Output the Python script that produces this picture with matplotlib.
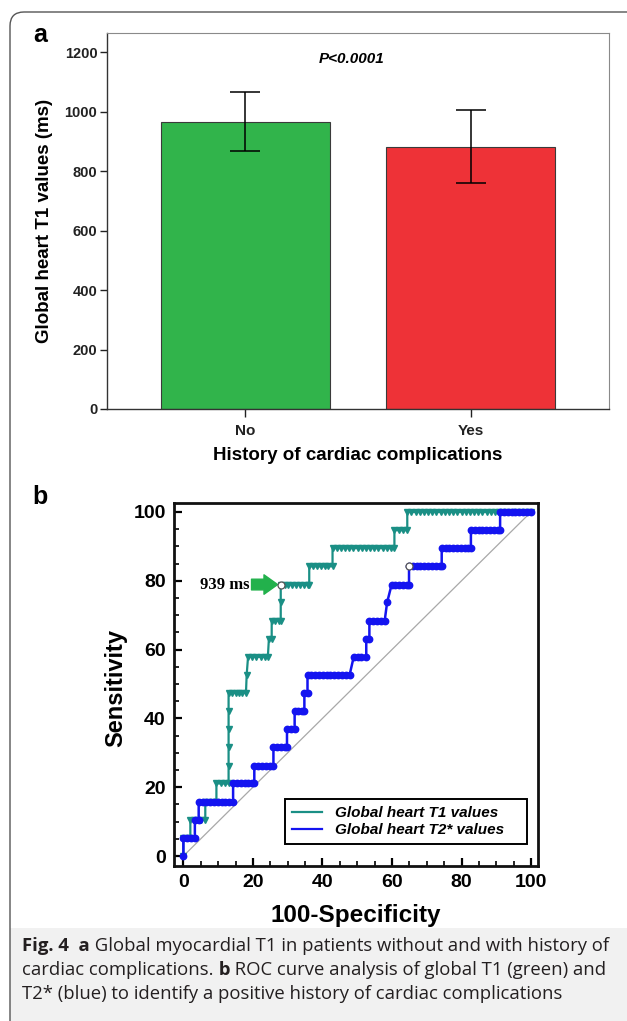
import numpy as np
import matplotlib
matplotlib.use("Agg")
import matplotlib.pyplot as plt
from matplotlib.patches import FancyBboxPatch, Rectangle
from matplotlib.transforms import IdentityTransform
from matplotlib.ticker import MultipleLocator
from matplotlib.lines import Line2D

plt.rcParams['font.family'] = ['Liberation Sans', 'DejaVu Sans']

################################################################################
# data
################################################################################

# panel a: global heart T1 (ms), mean with error bar
groups = ["No", "Yes"]
t1_means = [964, 881]
t1_err_low = [98, 122]
t1_err_high = [100, 123]
bar_colors = ["#31b44b", "#ee3237"]
p_text = "P<0.0001"

# panel b: ROC points (100-specificity, sensitivity)
t1_roc = [
    (0, 0),
    (0, 5.3), (1.0, 5.3), (2.0, 5.3),
    (2.0, 10.5), (3.1, 10.5), (4.2, 10.5), (5.2, 10.5), (6.3, 10.5),
    (6.3, 15.8), (7.4, 15.8), (8.5, 15.8), (9.5, 15.8),
    (9.5, 21.1), (10.7, 21.1), (11.9, 21.1), (13.0, 21.1),
    (13.0, 26.3), (13.0, 31.6), (13.0, 36.8), (13.0, 42.1),
    (13.0, 47.4), (14.0, 47.4), (15.0, 47.4), (16.0, 47.4), (17.0, 47.4), (18.0, 47.4),
    (18.2, 52.6),
    (18.6, 57.9), (19.8, 57.9), (21.0, 57.9), (22.2, 57.9), (23.4, 57.9), (24.3, 57.9),
    (24.6, 63.2), (25.4, 63.2),
    (25.4, 68.4), (26.4, 68.4), (27.4, 68.4), (28.0, 68.4),
    (28.0, 73.7),
    (28.0, 78.9), (29.1, 78.9), (30.2, 78.9), (31.3, 78.9), (32.4, 78.9), (33.5, 78.9),
    (34.6, 78.9), (35.7, 78.9), (36.2, 78.9),
    (36.2, 84.2), (37.3, 84.2), (38.4, 84.2), (39.5, 84.2), (40.6, 84.2), (41.7, 84.2),
    (42.9, 84.2),
    (42.9, 89.5), (44.1, 89.5), (45.3, 89.5), (46.5, 89.5), (47.7, 89.5), (48.9, 89.5),
    (50.1, 89.5), (51.3, 89.5), (52.5, 89.5), (53.7, 89.5), (54.9, 89.5), (56.1, 89.5),
    (57.3, 89.5), (58.5, 89.5), (59.7, 89.5), (60.7, 89.5),
    (60.7, 94.7), (61.9, 94.7), (63.1, 94.7), (64.4, 94.7),
    (64.4, 100), (65.6, 100), (66.8, 100), (68.0, 100), (69.2, 100), (70.4, 100),
    (71.6, 100), (72.8, 100), (74.0, 100), (75.2, 100), (76.4, 100), (77.6, 100),
    (78.8, 100), (80.0, 100), (81.2, 100), (82.4, 100), (83.6, 100), (84.8, 100),
    (86.0, 100), (87.2, 100), (88.4, 100), (89.6, 100), (90.8, 100), (92.0, 100),
    (93.2, 100), (94.4, 100), (95.6, 100), (96.8, 100), (98.0, 100), (99.2, 100),
    (100, 100),
]

t2_roc = [
    (0, 0),
    (0, 5.3), (1.1, 5.3), (2.2, 5.3), (3.3, 5.3),
    (3.3, 10.5), (4.4, 10.5),
    (4.4, 15.8), (5.5, 15.8), (6.6, 15.8), (7.7, 15.8), (8.8, 15.8), (9.9, 15.8),
    (11.0, 15.8), (12.1, 15.8), (13.2, 15.8), (14.3, 15.8),
    (14.3, 21.1), (15.4, 21.1), (16.5, 21.1), (17.6, 21.1), (18.7, 21.1), (19.8, 21.1),
    (20.4, 21.1),
    (20.4, 26.3), (21.5, 26.3), (22.6, 26.3), (23.7, 26.3), (24.8, 26.3), (25.9, 26.3),
    (25.9, 31.6), (27.0, 31.6), (28.1, 31.6), (29.2, 31.6), (29.8, 31.6),
    (29.8, 36.8), (30.9, 36.8), (32.0, 36.8),
    (32.0, 42.1), (33.1, 42.1), (34.2, 42.1), (34.8, 42.1),
    (34.8, 47.4), (35.7, 47.4),
    (35.7, 52.6), (36.8, 52.6), (37.9, 52.6), (39.0, 52.6), (40.1, 52.6), (41.2, 52.6),
    (42.3, 52.6), (43.4, 52.6), (44.5, 52.6), (45.6, 52.6), (46.7, 52.6), (47.8, 52.6),
    (49.0, 57.9), (50.1, 57.9), (51.2, 57.9), (52.6, 57.9),
    (52.6, 63.2), (53.5, 63.2),
    (53.5, 68.4), (54.6, 68.4), (55.7, 68.4), (56.8, 68.4), (57.9, 68.4),
    (58.6, 73.7),
    (59.9, 78.9), (61.0, 78.9), (62.1, 78.9), (63.2, 78.9), (64.3, 78.9), (64.9, 78.9),
    (64.9, 84.2), (66.0, 84.2), (67.1, 84.2), (68.2, 84.2), (69.3, 84.2), (70.4, 84.2),
    (71.5, 84.2), (72.6, 84.2), (73.7, 84.2), (74.3, 84.2),
    (74.3, 89.5), (75.4, 89.5), (76.5, 89.5), (77.6, 89.5), (78.7, 89.5), (79.8, 89.5),
    (80.9, 89.5), (82.0, 89.5), (82.7, 89.5),
    (82.7, 94.7), (83.8, 94.7), (84.9, 94.7), (86.0, 94.7), (87.1, 94.7), (88.2, 94.7),
    (89.3, 94.7), (90.4, 94.7), (91.1, 94.7),
    (91.1, 100), (92.2, 100), (93.3, 100), (94.4, 100), (95.5, 100), (96.6, 100),
    (97.7, 100), (98.8, 100), (100, 100),
]

t1_cutoff = (28.0, 78.9)
t2_cutoff = (64.9, 84.2)
cutoff_label = "939 ms"
roc_labels = ["Global heart T1 values", "Global heart T2* values"]
teal = "#1a8f85"
blue = "#1414f0"

################################################################################
# figure + frame
################################################################################

W, H = 627, 1021
fig = plt.figure(figsize=(W / 100, H / 100), dpi=100)


def fbox(l, t, r, b):
    # pixel box (from top-left) -> figure fraction
    return [l / W, 1 - b / H, (r - l) / W, (b - t) / H]


px = IdentityTransform()
fig.add_artist(Rectangle((10, -30), 700, H - 928 + 30, transform=px,
                         fc="#f1f1f1", ec="none", zorder=0))
fig.add_artist(FancyBboxPatch((10, -30), 700, H - 12 + 30, transform=px,
                              boxstyle="round,pad=0,rounding_size=14",
                              fill=False, ec="#555555", lw=1.0, zorder=1))

################################################################################
# panel a
################################################################################

axa = fig.add_axes(fbox(107, 33, 609, 409))
x = np.arange(len(groups))
axa.bar(x, t1_means, width=0.75, color=bar_colors, edgecolor="#3a3a3a",
        linewidth=0.8, zorder=2)
axa.errorbar(x, t1_means, yerr=[t1_err_low, t1_err_high], fmt="none",
             ecolor="black", elinewidth=1.1, capsize=11, capthick=1.1, zorder=3)
axa.set_xlim(-0.615, 1.615)
axa.set_ylim(0, 1264)
axa.set_yticks(np.arange(0, 1201, 200))
axa.set_xticks(x)
axa.set_xticklabels(groups)
for lab in axa.get_yticklabels():
    lab.set_fontweight("bold")
    lab.set_fontsize(10.5)
for lab in axa.get_xticklabels():
    lab.set_fontweight("bold")
    lab.set_fontsize(11)
axa.tick_params(direction="out", length=5, width=1, colors="#222222", pad=2)
axa.tick_params(axis="x", length=6, pad=5)
for s in ["top", "right"]:
    axa.spines[s].set_color("#8a8a8a")
    axa.spines[s].set_linewidth(0.8)
for s in ["left", "bottom"]:
    axa.spines[s].set_color("#333333")
    axa.spines[s].set_linewidth(1.0)
axa.text(0.47, 1176, p_text, ha="center", va="center", fontsize=11,
         fontweight="bold", style="italic")
axa.set_ylabel("Global heart T1 values (ms)", fontsize=13.5, fontweight="bold")
axa.yaxis.set_label_coords(-0.125, 0.5)
axa.yaxis.label.set_va("center")
axa.set_xlabel("History of cardiac complications", fontsize=13.5, fontweight="bold")
axa.xaxis.set_label_coords(0.5, -0.125)
axa.xaxis.label.set_va("center")

################################################################################
# panel b
################################################################################

axb = fig.add_axes(fbox(174, 503, 538, 866))
axb.plot([0, 100], [0, 100], color="#a8a8a8", lw=0.9, zorder=1)

t1x, t1y = np.array(t1_roc).T
t2x, t2y = np.array(t2_roc).T
axb.plot(t1x, t1y, color=teal, lw=1.6, marker="v", ms=4.2, mec=teal, mfc=teal,
         zorder=2)
axb.plot(t2x, t2y, color=blue, lw=1.8, marker="o", ms=4.6, mec=blue, mfc=blue,
         zorder=3)
axb.plot(*t1_cutoff, marker="o", ms=5, mfc="white", mec="#555555", mew=0.9, zorder=5)
axb.plot(*t2_cutoff, marker="o", ms=5, mfc="white", mec="#555555", mew=0.9, zorder=5)

axb.annotate("", xy=(t1_cutoff[0] - 0.9, t1_cutoff[1]),
             xytext=(t1_cutoff[0] - 8.4, t1_cutoff[1]),
             arrowprops=dict(arrowstyle="simple,head_width=1.0,head_length=0.7,tail_width=0.55",
                             color="#22b14c", mutation_scale=14, shrinkA=0, shrinkB=0),
             zorder=4)
axb.text(t1_cutoff[0] - 8.9, t1_cutoff[1], cutoff_label, ha="right", va="center",
         fontsize=12, fontweight="bold", family=["Liberation Serif", "DejaVu Serif"])

axb.set_xlim(-2.7, 102)
axb.set_ylim(-2.9, 102.6)
axb.xaxis.set_major_locator(MultipleLocator(20))
axb.yaxis.set_major_locator(MultipleLocator(20))
axb.xaxis.set_minor_locator(MultipleLocator(5))
axb.yaxis.set_minor_locator(MultipleLocator(5))
axb.tick_params(which="major", direction="in", length=6, width=1.6, pad=6)
axb.tick_params(which="minor", direction="in", length=3.5, width=1.2)
for lab in axb.get_xticklabels() + axb.get_yticklabels():
    lab.set_fontweight("bold")
    lab.set_fontsize(14)
for s in axb.spines.values():
    s.set_linewidth(2.0)
    s.set_color("#111111")

handles = [Line2D([], [], color=teal, lw=1.6), Line2D([], [], color=blue, lw=1.6)]
leg = axb.legend(handles, roc_labels, loc="lower left",
                 bbox_to_anchor=(0.305, 0.06, 0.665, 0.127), mode="expand",
                 borderaxespad=0,
                 prop=dict(size=11, weight="bold", style="italic"),
                 handlelength=2.0, handletextpad=0.8, borderpad=0.45,
                 labelspacing=0.2, fancybox=False, framealpha=1)
leg.get_frame().set_edgecolor("black")
leg.get_frame().set_linewidth(1.4)

axb.set_ylabel("Sensitivity", fontsize=17, fontweight="bold")
axb.yaxis.set_label_coords(-0.159, 0.49)
axb.yaxis.label.set_va("center")
axb.set_xlabel("100-Specificity", fontsize=17.5, fontweight="bold")
axb.xaxis.set_label_coords(0.5, -0.135)
axb.xaxis.label.set_va("center")

# panel letters
fig.text(40 / W, 1 - 35 / H, "a", fontsize=18, fontweight="bold", ha="center", va="center")
fig.text(40 / W, 1 - 497 / H, "b", fontsize=18, fontweight="bold", ha="center", va="center")

################################################################################
# caption
################################################################################

cap_font = ["Open Sans", "DejaVu Sans"]
cap_size = 13.3
cap_lines = [
    [("Fig. 4", "bold"), ("  a", "bold"), (" Global myocardial T1 in patients without and with history of", "normal")],
    [("cardiac complications.", "normal"), (" b", "bold"), (" ROC curve analysis of global T1 (green) and", "normal")],
    [("T2* (blue) to identify a positive history of cardiac complications", "normal")],
]
cap_y = [H - 946, H - 970, H - 994]

renderer = fig.canvas.get_renderer()
for parts, yy in zip(cap_lines, cap_y):
    xx = 22
    for s, w in parts:
        t = fig.text(xx, yy, s, transform=px, fontsize=cap_size, fontweight=w,
                     family=cap_font, va="center", ha="left", color="#231f20")
        xx = t.get_window_extent(renderer).x1

fig.savefig("out.png", dpi=100)
